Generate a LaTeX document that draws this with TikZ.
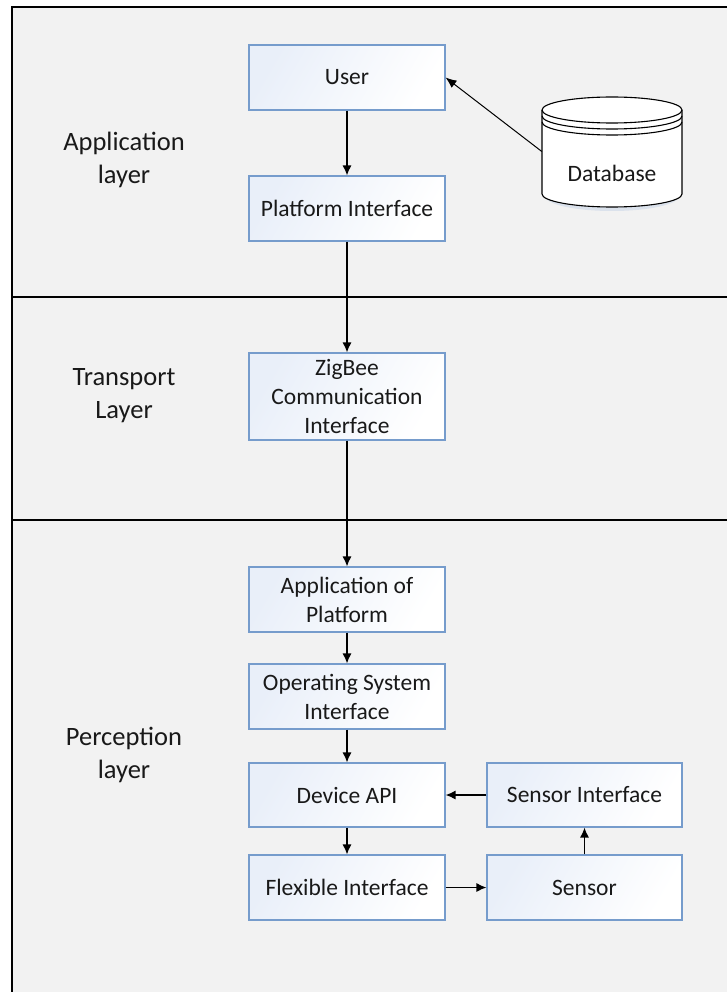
\documentclass[tikz,border=0pt]{standalone}
\usepackage{fontspec}
\setmainfont{Carlito}
\usetikzlibrary{arrows.meta}
\definecolor{panel}{RGB}{242,242,242}
\definecolor{boxedge}{RGB}{118,156,204}
\definecolor{boxtint}{RGB}{233,239,249}
\definecolor{dbshadow}{RGB}{205,216,232}
\tikzset{
  stepbox/.style={draw=boxedge, line width=1.1pt, top color=boxtint, middle color=white!97!boxtint,
    bottom color=white, shading angle=60, minimum width=196pt, minimum height=65pt, align=center,
    inner sep=2pt, font=\fontsize{23.5}{29}\selectfont, text=black!90},
  layerlabel/.style={align=center, font=\fontsize{26.5}{33}\selectfont, text=black!90},
  flow/.style={line width=1.3pt, -{Latex[length=10pt,width=9pt]}},
  thinflow/.style={line width=1pt, -{Latex[length=11pt,width=9pt]}},
  frame/.style={line width=1.6pt, draw=black}
}
\begin{document}
\begin{tikzpicture}[x=1pt, y=-1pt]
  \useasboundingbox (0,0) rectangle (727,992);
  \clip (0,0) rectangle (727,992);

  % layer panels
  \fill[panel] (12,7) rectangle (740,1000);
  \draw[frame] (740,7) -- (12,7) -- (12,1000);
  \draw[frame] (12,297) -- (740,297);
  \draw[frame] (12,520) -- (740,520);

  % layer names
  \node[layerlabel] (lapp)  at (124,160) {Application\\layer};
  \node[layerlabel] (ltra)  at (124,396) {Transport\\Layer};
  \node[layerlabel] (lper)  at (124,754.5) {Perception\\layer};

  % main column
  \node[stepbox] (user)  at (347,77.5)  {User};
  \node[stepbox] (plat)  at (347,208.5) {Platform Interface};
  \node[stepbox, minimum height=87pt] (zig) at (347,396.5) {ZigBee\\Communication\\Interface};
  \node[stepbox] (appp)  at (347,599.5) {Application of\\Platform};
  \node[stepbox] (os)    at (347,696.5) {Operating System\\Interface};
  \node[stepbox, minimum height=64pt] (dev) at (347,795) {Device API};
  \node[stepbox] (flex)  at (347,887.5) {Flexible Interface};

  % sensor column
  \node[stepbox, minimum width=195pt, minimum height=64pt] (sint) at (584.5,795) {Sensor Interface};
  \node[stepbox, minimum width=195pt] (sens) at (584.5,887.5) {Sensor};

  % database cylinder
  \fill[dbshadow, opacity=0.6] (545,196) arc[start angle=180, end angle=360, x radius=67pt, y radius=15pt] -- cycle;
  \filldraw[fill=white, draw=black, line width=1.1pt]
    (542,110) -- (542,194)
    arc[start angle=180, end angle=360, x radius=70pt, y radius=13pt]
    -- (682,110)
    arc[start angle=0, end angle=180, x radius=70pt, y radius=13pt] -- cycle;
  \draw[line width=1.1pt] (542,110) arc[start angle=180, end angle=360, x radius=70pt, y radius=13pt];
  \draw[line width=1.1pt] (542,116) arc[start angle=180, end angle=360, x radius=70pt, y radius=13pt];
  \draw[line width=1.1pt] (542,122) arc[start angle=180, end angle=360, x radius=70pt, y radius=13pt];
  \node[minimum width=140pt, minimum height=111pt, inner sep=0pt] (db) at (612,151.5) {};
  \node[font=\fontsize{23.5}{29}\selectfont, text=black!90] (dbtext) at (612,173) {Database};

  % connectors
  \draw[thinflow] (db.west) -- (user.east);
  \draw[flow] (user) -- (plat);
  \draw[flow] (plat) -- (zig);
  \draw[flow] (zig) -- (appp);
  \draw[flow] (appp) -- (os);
  \draw[flow] (os) -- (dev);
  \draw[flow] (dev) -- (flex);
  \draw[flow] (sint) -- (dev);
  \draw[flow] (flex) -- (sens);
  \draw[flow] (sens) -- (sint);
\end{tikzpicture}
\end{document}
